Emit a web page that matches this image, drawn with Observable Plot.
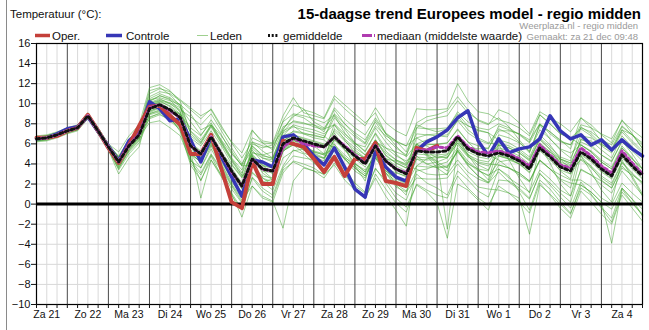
<!DOCTYPE html>
<html><head><meta charset="utf-8">
<script src="https://cdn.jsdelivr.net/npm/d3@7"></script>
<script src="https://cdn.jsdelivr.net/npm/@observablehq/plot@0.6"></script>
<style>
body{margin:0;background:#fff;font-family:Arial,"Liberation Sans",sans-serif;}
#wrap{position:relative;width:649px;height:330px;overflow:hidden;background:#fff;}
#chart{position:absolute;left:0;top:0;}
#head{position:absolute;left:0;top:0;}
#edge{position:absolute;left:6px;top:0;width:1px;height:330px;background:#8a8a8a;}
</style></head><body>
<div id="wrap"><div id="chart"></div><svg id="head" width="649" height="43"></svg><div id="edge"></div></div>
<script>
// ---------- data ----------
const startTime = "2024-12-21T06:00:00Z";   // first value, 6-hourly steps
const stepHours = 6;
const titel = "15-daagse trend Europees model - regio midden";
const yTitel = "Temperatuur (°C):";
const bron = "Weerplaza.nl - regio midden";
const gemaakt = "Gemaakt: za 21 dec 09:48";
const dagLabels = ["Za 21","Zo 22","Ma 23","Di 24","Wo 25","Do 26","Vr 27","Za 28","Zo 29","Ma 30","Di 31","Wo 1","Do 2","Vr 3","Za 4"];
const yTicks = [-10,-8,-6,-4,-2,0,2,4,6,8,10,12,14,16];

const oper = [6.6,6.6,6.8,7.3,7.6,8.9,7.3,5.6, 4.1,5.9,7.8, 9.7,9.8,8.8,7.9, 5.0,5.0,6.9,3.5,0.2,-0.4, 4.3,2.0,2.0,6.3,6.0,5.7,4.5,3.2, 4.7,2.8,4.5,4.5,6.1,2.3,2.1,1.8, 5.6,5.3,5.8];
const controle = [6.5,6.6,7.0,7.5,7.7,8.7,7.2,5.8, 4.3,6.3,7.2, 10.2,9.5,8.3,8.5, 6.4,4.2,6.7,4.7,2.7,0.8, 4.4,4.2,3.7,6.7,6.9,6.0,4.8,3.9, 5.6,3.7,1.5,0.7,5.3,3.7,2.7,2.3, 5.3,6.2,6.7,7.4,8.6,9.3,6.3,4.8, 6.5,5.1,5.5,5.7,6.5,8.8,7.3,6.5, 6.9,5.9,6.4,5.4,6.4,5.5,4.8];
const gemiddelde = [6.5,6.6,6.9,7.3,7.6,8.8,7.3,5.7, 4.2,5.8,6.9, 9.5,9.9,9.4,8.6, 5.8,5.0,6.7,5.0,3.3,1.8, 4.5,3.5,3.3,6.0,6.6,6.3,6.0,5.7, 6.7,5.7,4.8,4.0,5.8,4.3,3.5,3.0, 5.3,5.2,5.2,5.3,6.7,5.5,5.0,4.8, 5.1,4.8,4.3,3.5,5.6,4.7,3.7,3.3, 5.2,4.5,3.5,2.8,4.9,3.8,2.8];
const mediaan = [6.5,6.6,6.9,7.3,7.6,8.8,7.3,5.7, 4.2,5.9,7.0, 9.6,9.9,9.3,8.6, 5.8,5.0,6.7,5.0,3.2,1.8, 4.5,3.5,3.3,5.6,6.6,6.0,5.8,5.7, 6.7,5.8,4.9,4.1,5.9,4.3,3.5,3.1, 5.4,5.4,5.7,5.6,6.8,5.7,5.2,5.1, 5.3,5.0,4.5,3.8,5.9,4.9,3.9,3.6, 5.6,4.8,3.8,3.1,5.3,4.1,3.0];

const leden = [
[6.6,6.7,7.0,7.4,7.7,8.9,7.4,5.8,4.5,6.1,7.2, 10.0,10.4,10.1,9.6,8.2,6.9,8.1,6.3,4.6,3.4, 6.0,5.6,5.9,7.4,8.9,8.6,7.9,7.2, 9.4,8.0,6.9,6.1,8.4,7.0,6.3,5.2, 7.6,8.3,8.6,8.8,10.3,9.1,8.4,8.0, 8.6,7.7,6.4,5.2,7.9,6.5,5.4,4.6, 6.8,6.6,5.9,5.5,7.7,6.9,5.6],
[6.4,6.5,6.8,7.2,7.5,8.7,7.2,5.6,3.8,5.4,6.5, 8.9,9.2,8.5,7.4,4.4,3.1,5.0,3.5,1.8,0.2, 3.1,2.2,1.4,3.8,5.4,5.0,4.1,3.3, 4.9,3.4,2.1,1.2,3.5,2.4,1.1,0.4, 3.0,2.1,1.6,0.9,3.3,2.4,1.3,0.7, 3.5,2.8,1.2,-0.6,2.4,1.5,0.2,-0.9, 1.6,0.9,-0.4,-1.8,1.2,0.1,-1.1],
[6.7,6.8,7.1,7.5,7.8,9.0,7.5,5.9,4.8,6.4,7.5, 11.0,11.5,11.2,10.4,9.6,8.8,9.4,7.6,6.2,5.1, 7.4,6.1,5.4,8.3,9.9,9.5,8.2,7.6, 8.8,7.1,6.0,5.7,7.6,6.2,5.0,4.1, 6.0,5.2,4.6,4.9,6.3,5.0,4.1,3.8, 4.9,4.6,4.0,3.4,5.5,4.9,4.4,3.6, 4.8,3.7,2.4,1.6,3.6,2.9,2.2],
[6.3,6.4,6.7,7.1,7.4,8.6,7.1,5.5,3.4,5.0,6.1, 8.6,9.1,8.7,7.2,3.9,2.4,4.4,2.9,1.1,-0.5, 2.7,1.6,0.9,3.6,4.8,4.6,4.4,4.0, 6.4,5.6,4.9,4.1,6.1,4.4,3.2,2.7, 6.0,6.4,6.8,6.9,8.3,7.1,6.4,6.0, 7.5,7.0,6.2,5.1,7.9,7.2,6.4,5.5, 8.6,7.9,6.9,6.1,8.4,7.0,5.5],
[6.5,6.6,6.9,7.3,7.6,8.8,7.3,5.7,4.4,6.0,7.1, 9.8,10.1,9.5,8.3,5.2,4.1,6.3,5.1,3.9,2.6, 4.3,3.4,2.5,5.2,6.3,6.1,5.8,5.0, 5.5,4.6,4.0,3.4,4.9,3.1,2.0,1.3, 3.3,3.5,3.9,4.2,5.6,4.3,3.4,2.8, 4.2,4.4,4.0,3.1,5.4,4.6,3.3,2.5, 5.9,5.3,4.4,3.7,5.8,4.6,3.1],
[6.6,6.7,7.0,7.4,7.7,8.9,7.4,5.8,4.7,6.3,7.4, 10.7,11.2,11.0,10.3,9.4,8.5,9.5,7.8,6.1,4.6, 6.2,5.8,5.6,7.7,8.2,8.0,7.9,7.5, 7.9,6.4,5.1,4.6,6.2,5.6,5.2,4.8, 8.1,8.7,8.9,9.3,10.7,9.4,8.3,7.9, 9.4,9.0,8.1,7.0,9.2,8.6,8.0,7.2, 8.6,7.6,6.2,5.4,7.4,6.9,6.1],
[6.4,6.5,6.8,7.2,7.5,8.7,7.2,5.6,3.9,5.5,6.6, 9.0,9.3,8.6,7.7,5.4,4.8,6.2,4.0,2.2,0.9, 5.2,4.6,4.2,6.8,7.2,7.0,6.9,6.6, 8.6,7.5,6.1,5.2,7.0,5.3,4.4,4.0, 4.8,4.0,3.6,3.7,5.4,4.1,3.3,2.9, 3.5,2.6,1.9,1.2,3.4,2.5,1.4,0.8, 3.4,2.9,2.3,1.6,3.8,2.8,1.0],
[6.8,6.9,7.2,7.6,7.9,9.1,7.6,6.0,5.2,6.8,7.9, 11.6,11.9,11.3,10.2,7.0,6.1,7.9,6.8,5.3,3.8, 3.9,2.6,1.9,4.6,5.3,5.5,5.2,4.9, 4.5,3.0,1.8,1.1,3.6,2.1,0.6,-0.3, 1.9,1.2,0.1,-3.4,2.0,1.4,0.4,-0.6, 2.4,2.3,1.6,0.6,3.0,2.1,1.1,0.2, 3.5,2.9,1.9,1.1,3.3,2.1,0.9],
[6.3,6.4,6.7,7.1,7.4,8.6,7.1,5.5,3.7,5.3,6.4, 10.3,10.8,10.4,9.2,6.0,5.2,6.8,5.0,3.3,2.1, 5.8,4.9,4.5,6.8,7.9,7.6,7.4,7.0, 7.9,6.8,5.9,4.9,6.4,4.8,4.1,3.6, 6.6,6.9,7.0,7.2,8.8,7.4,6.6,6.1, 5.9,5.6,5.1,4.4,6.5,5.4,4.1,3.4, 4.4,3.6,2.6,1.9,4.1,3.0,2.0],
[6.5,6.6,6.9,7.3,7.6,8.8,7.3,5.7,4.0,5.6,6.7, 8.1,8.3,7.6,6.8,4.3,3.6,5.5,3.7,1.9,0.4, 1.8,0.6,0.2,3.1,4.3,4.0,3.6,2.9, 3.9,2.4,1.4,0.6,2.6,0.8,-0.6,-2.2, 3.8,4.5,4.8,4.6,6.1,4.8,3.9,3.4, 5.4,5.1,4.6,3.7,5.9,5.0,3.8,3.0, 6.5,5.9,4.9,4.2,6.3,5.0,3.5],
[6.7,6.8,7.1,7.5,7.8,9.0,7.5,5.9,4.6,6.2,7.3, 9.2,9.7,9.4,8.9,7.6,6.8,8.4,6.9,5.1,3.8, 5.4,4.2,3.6,6.2,7.3,7.1,6.8,6.6, 9.0,8.0,7.1,6.4,8.2,6.6,5.6,4.9, 7.0,6.9,6.8,6.7,8.4,7.8,7.4,7.1, 6.4,6.1,5.5,4.7,6.9,5.9,4.5,3.9, 6.4,6.3,5.4,4.6,6.8,5.7,4.6],
[6.4,6.5,6.8,7.2,7.5,8.7,7.2,5.6,4.3,5.9,7.0, 9.7,10.2,9.8,9.0,5.0,4.2,6.0,4.4,2.6,1.1, 4.8,3.9,3.6,6.3,6.9,6.5,6.2,5.9, 6.5,5.4,4.1,3.2,5.0,3.6,3.1,2.8, 5.5,5.9,6.0,6.1,7.5,6.2,5.2,4.9, 4.4,3.6,2.9,2.2,4.3,3.5,2.9,2.4, 2.4,1.7,0.6,0.0,2.1,1.1,0.2],
[6.6,6.7,7.0,7.4,7.7,8.9,7.4,5.8,4.1,5.7,6.8, 10.5,11.0,10.6,9.9,6.1,4.6,6.4,4.8,3.1,1.6, 3.2,2.2,2.5,5.3,5.9,5.1,4.7,4.3, 7.5,6.5,5.6,4.9,6.0,4.5,4.3,3.8, 3.5,3.0,2.9,3.0,4.4,3.2,2.5,2.1, 3.9,3.6,3.1,2.3,4.4,3.5,2.4,1.6, 5.5,4.8,3.8,3.1,5.2,4.0,3.1],
[6.5,6.6,6.9,7.3,7.6,8.8,7.3,5.7,4.5,6.1,7.2, 8.7,9.0,8.3,7.4,4.1,2.9,4.9,3.3,1.5,0.1, 6.2,5.3,4.6,7.2,8.3,8.1,7.7,7.4, 9.6,8.5,7.6,6.9,8.6,7.1,6.3,5.8, 6.6,6.0,5.9,6.1,7.4,6.2,5.8,5.5, 7.8,7.4,7.0,6.2,8.9,8.0,7.0,6.6, 7.5,6.8,5.8,5.1,7.2,6.1,5.1],
[6.2,6.3,6.6,7.0,7.3,8.5,7.0,5.4,3.0,4.6,5.7, 9.8,10.3,10.0,9.4,8.7,7.9,9.0,7.3,5.6,4.0, 5.8,4.8,4.6,7.3,7.8,7.0,6.6,6.4, 5.5,4.5,3.6,2.8,4.6,3.1,1.7,1.2, 2.6,2.5,2.5,2.6,4.0,2.8,1.7,1.5, 1.4,1.1,0.6,-3.0,1.9,1.0,0.0,-1.0, 1.9,1.2,0.2,-3.9,1.6,0.5,-1.2],
[6.6,6.7,7.0,7.4,7.7,8.9,7.4,5.8,4.4,6.0,7.1, 10.0,10.3,9.7,8.8,5.2,4.4,6.1,4.9,3.3,1.7, 4.2,3.3,3.1,5.8,6.4,6.0,5.2,4.9, 6.4,5.4,4.5,3.7,5.5,4.6,3.8,3.3, 5.9,5.8,5.2,5.3,6.7,5.5,5.0,4.8, 5.9,5.6,5.1,4.3,6.4,5.5,4.5,4.1, 5.0,4.3,3.3,2.6,4.7,3.6,2.6],
[6.4,6.5,6.8,7.2,7.5,8.7,7.2,5.6,4.0,5.6,6.7, 9.3,9.8,9.5,8.9,7.2,6.2,7.8,6.1,4.4,2.9, 7.3,6.3,6.1,8.8,10.6,9.1,8.8,8.5, 10.5,9.5,8.6,7.8,9.6,8.1,7.3,6.8, 9.5,9.4,9.4,9.5,12.0,10.3,9.2,9.0, 8.4,8.1,7.6,6.8,8.9,8.0,7.0,6.6, 5.9,5.2,4.2,3.5,5.6,4.5,3.5],
[6.7,6.8,7.1,7.5,7.8,9.0,7.5,5.9,4.7,6.3,7.4, 11.3,11.6,10.9,9.8,5.3,0.6,4.4,2.7,1.0,-1.3, 1.8,0.8,0.3,-2.4,2.3,3.6,3.3,3.0, 5.5,4.5,3.6,2.8,4.6,3.1,2.3,1.8, 4.5,4.4,4.4,-2.5,5.9,4.7,4.2,4.0, 3.9,3.6,3.1,2.3,4.4,3.5,2.5,2.1, 1.9,1.2,0.2,-0.5,1.6,0.5,-0.5],
[6.5,6.6,6.9,7.3,7.6,8.8,7.3,5.7,4.2,5.8,6.9, 9.5,9.9,9.4,8.6,6.0,5.2,6.9,5.2,3.5,2.0, 4.6,3.6,3.4,6.1,6.7,6.4,6.1,5.8, 7.3,6.3,5.4,4.6,6.4,4.9,4.1,3.6, 4.7,4.6,4.6,4.7,6.1,4.9,4.4,4.2, 5.6,5.3,4.8,4.0,6.1,5.2,4.2,3.8, 4.9,4.2,3.2,2.5,4.6,3.5,2.5],
[6.3,6.4,6.7,7.1,7.4,8.6,7.1,5.5,3.6,5.2,6.3, 9.0,9.4,8.9,8.1,6.8,6.0,7.7,6.0,4.3,2.8, 3.8,2.8,2.6,5.3,5.9,5.6,5.3,5.0, 8.0,7.0,6.1,5.3,7.1,5.6,4.8,4.3, 5.0,4.9,4.9,5.0,6.4,5.2,4.7,4.5, 6.9,6.6,6.1,5.3,7.4,6.5,5.5,5.1, 5.9,5.2,4.2,3.5,5.6,4.5,3.5],
[6.6,6.7,7.0,7.4,7.7,8.9,7.4,5.8,4.6,6.2,7.3, 10.1,10.5,10.0,9.2,5.0,4.2,5.9,4.2,2.5,1.0, 5.6,4.6,4.4,7.1,7.7,7.4,7.1,6.8, 5.9,4.9,4.0,3.2,5.0,3.5,2.7,2.2, 7.6,7.5,7.5,7.6,9.0,7.8,7.3,7.1, 4.8,4.5,4.0,3.2,5.3,4.4,3.4,3.0, 4.5,3.8,2.8,2.1,4.2,3.1,2.1],
[6.5,6.6,6.9,7.3,7.6,8.8,7.3,5.7,4.1,5.7,6.8, 8.5,8.9,8.4,7.6,6.1,5.3,7.0,5.3,3.6,2.1, 4.8,3.8,3.6,6.3,6.9,6.6,6.3,6.0, 5.7,4.7,3.8,3.0,4.8,3.3,2.5,2.0, 3.8,3.7,3.7,3.8,5.2,4.0,3.5,3.3, 6.1,5.8,5.3,4.5,6.6,5.7,4.7,4.3, 7.7,7.0,6.0,5.3,7.4,6.3,5.3],
[6.4,6.6,7.0,7.3,7.5,8.6,7.0,5.4,3.9,5.9,7.3, 9.9,10.1,9.0,7.6,5.0,3.6,5.8,3.9,2.0,0.6, 4.9,3.1,2.4,5.5,6.2,5.4,4.8,4.6, 7.1,5.6,3.8,2.3,5.9,3.6,1.9,0.9, 5.6,4.8,3.6,2.9,6.6,4.9,3.5,2.4, 5.9,4.4,2.6,1.1,5.8,4.1,2.0,0.8, 4.8,3.2,1.4,0.2,4.4,2.6,0.8],
[6.6,6.5,6.8,7.2,7.6,8.9,7.3,5.7,4.4,5.7,6.6, 9.1,9.6,9.5,9.0,6.6,5.8,7.3,5.8,4.0,2.7, 5.1,4.9,5.2,7.5,8.7,9.4,9.1,8.6, 10.8,9.9,9.0,8.1,9.1,7.0,5.8,4.7, 6.0,4.9,4.0,3.3,5.4,3.9,2.8,2.1, 3.2,2.2,1.4,0.5,3.1,1.9,0.7,-0.4, 2.2,1.0,-0.3,-1.4,1.5,0.1,-1.0],
[6.5,6.7,7.0,7.3,7.7,8.8,7.2,5.5,4.0,5.6,6.8, 10.4,10.6,10.3,9.9,9.0,7.4,7.9,6.2,4.5,3.1, 5.0,3.9,3.0,5.7,6.4,5.7,5.1,4.6, 6.0,4.5,3.3,2.6,4.7,3.3,2.6,2.1, 4.5,4.0,4.2,4.6,6.5,5.7,5.5,5.6, 7.3,7.3,7.0,6.4,8.0,7.2,6.3,5.9, 7.6,7.2,6.4,5.9,7.8,6.9,5.9],
[6.4,6.5,6.8,7.2,7.5,8.6,7.1,5.4,3.5,5.4,6.7, 9.3,9.6,9.0,7.9,4.6,2.3,4.8,2.8,0.9,-0.6, 2.6,1.3,0.6,3.4,4.2,3.7,3.3,2.6, 4.1,2.9,1.6,0.5,3.0,1.5,0.1,-0.8, 2.0,1.4,0.9,0.6,2.8,1.6,0.6,-0.1, 1.8,1.1,0.2,-0.9,2.1,0.9,-0.4,-1.4, 1.3,0.2,-1.0,-2.0,0.9,-0.4,-1.7],
[6.6,6.8,7.1,7.4,7.8,9.0,7.6,6.0,4.6,6.2,7.3, 10.2,10.8,10.5,9.7,7.3,6.4,7.9,6.4,5.0,3.9, 6.6,6.1,6.0,8.2,9.0,8.8,8.5,8.1, 8.9,7.6,6.7,6.0,7.8,6.8,6.2,5.8, 7.9,7.5,7.2,7.5,9.2,8.2,7.6,7.4, 8.0,7.6,6.9,6.1,8.0,7.0,6.2,5.9, 7.9,7.6,7.0,6.5,8.3,7.4,6.6],
[6.5,6.6,6.9,7.2,7.5,8.7,7.2,5.6,4.2,5.6,6.6, 9.4,9.7,9.1,8.0,5.6,4.7,6.5,4.6,2.9,1.5, 4.0,2.6,2.2,5.4,6.0,5.4,5.0,4.5, 6.5,5.8,5.2,4.5,6.4,5.1,4.4,3.9, 5.6,5.0,4.2,3.6,5.3,3.8,2.8,2.2, 4.8,4.5,4.3,3.8,6.0,5.2,4.5,4.1, 6.2,5.7,4.9,4.3,6.2,5.3,4.3]
];

// ---------- build ----------
const t0 = new Date(startTime);
const T = i => new Date(+t0 + i * stepHours * 3600e3);
const tEnd = T(gemiddelde.length - 1);
const serie = arr => arr.map((v, i) => ({t: T(i), v}));
const ledenData = leden.flatMap((arr, m) => arr.map((v, i) => ({t: T(i), v, m})));
const sixH = d3.utcHour.every(6).range(t0, new Date(+tEnd + 1));
const minor = sixH.filter(d => d.getUTCHours() !== 0);
const midnights = sixH.filter(d => d.getUTCHours() === 0);
const noons = dagLabels.map((_, k) => new Date(Date.UTC(2024, 11, 21 + k, 12)));
const labelOf = new Map(noons.map((d, k) => [+d, dagLabels[k]]));

const chart = Plot.plot({
  width: 649, height: 330,
  marginTop: 43, marginBottom: 26, marginLeft: 36, marginRight: 7,
  x: {type: "utc", domain: [t0, tEnd]},
  y: {domain: [-10, 16]},
  style: {fontFamily: 'Arial, "Liberation Sans", sans-serif', fontSize: "11px", color: "#111", background: "transparent"},
  marks: [
    Plot.ruleX(minor, {stroke: "#d9d9d9", strokeWidth: 1}),
    Plot.ruleY(yTicks, {stroke: "#d9d9d9", strokeWidth: 1}),
    Plot.ruleX(midnights, {stroke: "#4a4a4a", strokeWidth: 1}),
    Plot.line(ledenData, {x: "t", y: "v", z: "m", stroke: "#3da12a", strokeOpacity: 0.5, strokeWidth: 1}),
    Plot.ruleY([0], {stroke: "#000", strokeWidth: 3}),
    Plot.line(serie(controle), {x: "t", y: "v", stroke: "#3636b6", strokeWidth: 3.5}),
    Plot.line(serie(oper), {x: "t", y: "v", stroke: "#c4403a", strokeWidth: 4}),
    Plot.line(serie(gemiddelde), {x: "t", y: "v", stroke: "#fff", strokeWidth: 3}),
    Plot.line(serie(mediaan), {x: "t", y: "v", stroke: "#b03cb0", strokeWidth: 3, strokeDasharray: "3,3", strokeDashoffset: 3}),
    Plot.line(serie(gemiddelde), {x: "t", y: "v", stroke: "#111", strokeWidth: 3, strokeDasharray: "3,3"}),
    Plot.frame({stroke: "#000", strokeWidth: 1.2}),
    Plot.axisY({ticks: yTicks, tickSize: 5, tickPadding: 1, label: null, fontSize: "11px"}),
    Plot.axisX({ticks: sixH, tickSize: 4, tickFormat: () => "", label: null}),
    Plot.axisX({ticks: noons, tickSize: 0, tickPadding: 6, tickFormat: d => labelOf.get(+d), label: null, fontSize: "10.5px"})
  ]
});
document.getElementById("chart").append(chart);

// ---------- header: titles & legend ----------
const h = d3.select("#head").style("font-family", 'Arial, "Liberation Sans", sans-serif');
h.append("text").attr("x", 10).attr("y", 18).attr("font-size", 11.5).attr("fill", "#111").text(yTitel);
h.append("text").attr("x", 641).attr("y", 18.5).attr("text-anchor", "end").attr("font-size", 15).attr("font-weight", "bold").attr("fill", "#000").text(titel);
h.append("text").attr("x", 638).attr("y", 29).attr("text-anchor", "end").attr("font-size", 9.5).attr("fill", "#9a9a9a").text(bron);
h.append("text").attr("x", 638).attr("y", 39.5).attr("text-anchor", "end").attr("font-size", 9.5).attr("fill", "#9a9a9a").text(gemaakt);

const legend = [
  {x1: 35, x2: 50, tx: 52, label: "Oper.", stroke: "#c4403a", w: 3.5, dash: null},
  {x1: 106, x2: 122, tx: 126, label: "Controle", stroke: "#3636b6", w: 3.5, dash: null},
  {x1: 197, x2: 208, tx: 210, label: "Leden", stroke: "#9fd08f", w: 1, dash: null},
  {x1: 268, x2: 279, tx: 283, label: "gemiddelde", stroke: "#111", w: 3, dash: "2,1.7"},
  {x1: 362, x2: 375, tx: 377, label: "mediaan (middelste waarde)", stroke: "#b03cb0", w: 3, dash: "10,2,1,0"}
];
legend.forEach(d => {
  const l = h.append("line").attr("x1", d.x1).attr("x2", d.x2).attr("y1", 35.5).attr("y2", 35.5)
    .attr("stroke", d.stroke).attr("stroke-width", d.w);
  if (d.dash) l.attr("stroke-dasharray", d.dash);
  h.append("text").attr("x", d.tx).attr("y", 39.5).attr("font-size", 11.5).attr("fill", "#111").text(d.label);
});
</script>
</body></html>
